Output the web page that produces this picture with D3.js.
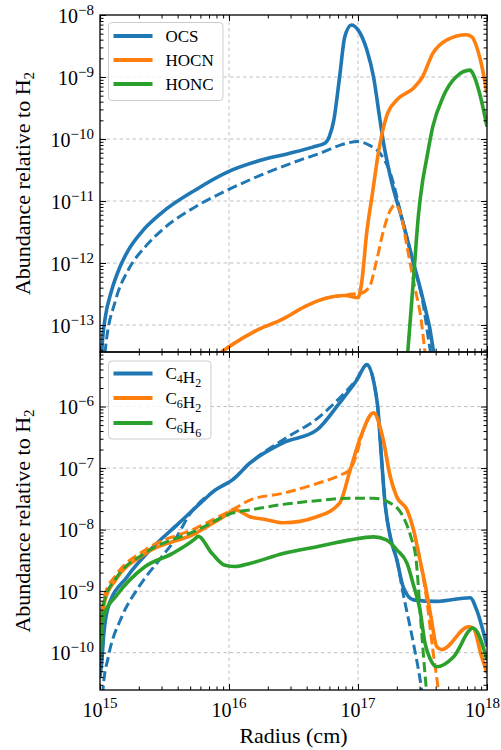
<!DOCTYPE html>
<html>
<head>
<meta charset="utf-8">
<script src="https://cdn.jsdelivr.net/npm/d3@7"></script>
<style>
  body { margin: 0; background: #fff; }
  svg, svg text { font-family: "Liberation Serif", "DejaVu Serif", serif; }
  svg text { fill: #000; }
</style>
</head>
<body>
<svg id="chart" width="501" height="750" font-family="Liberation Serif, DejaVu Serif, serif"></svg>
<script>
////////////////////////////////////////////////////////////////////////////////////
// Data: [radius (cm), abundance relative to H2]
var ocsSolid = [
  [1.02e15, 2.5e-14], [1.05e15, 6.3e-14], [1.10e15, 1.35e-13], [1.23e15, 3.6e-13],
  [1.43e15, 8.7e-13], [1.66e15, 1.62e-12], [2.1e15, 3.16e-12], [3.02e15, 6.5e-12],
  [5.5e15, 1.51e-11], [9.8e15, 2.95e-11],
  [1.78e16, 4.57e-11], [2.82e16, 5.75e-11], [4.47e16, 7.4e-11], [5.6e16, 8.7e-11],
  [6.0e16, 1.1e-10], [6.5e16, 2.04e-10], [7.2e16, 1.0e-9], [7.9e16, 4.47e-9],
  [8.9e16, 6.9e-9], [1.0e17, 5.75e-9], [1.17e17, 2.75e-9], [1.32e17, 1.0e-9],
  [1.48e17, 2.04e-10], [1.58e17, 8.5e-11], [1.78e17, 2.5e-11], [2.24e17, 4.37e-12],
  [2.69e17, 1.0e-12], [3.16e17, 2.82e-13], [3.8e17, 4.47e-14], [3.98e17, 2.0e-14]
];
var ocsDashed = [
  [1.07e15, 2.0e-14], [1.10e15, 4.0e-14], [1.32e15, 2.5e-13], [1.66e15, 7.8e-13],
  [2.24e15, 1.82e-12], [3.02e15, 3.4e-12], [5.5e15, 8.1e-12], [9.8e15, 1.51e-11],
  [1.78e16, 2.63e-11], [3.55e16, 4.57e-11], [5.1e16, 5.9e-11], [7.2e16, 7.9e-11],
  [1.0e17, 9.1e-11], [1.23e17, 7.9e-11], [1.48e17, 5.9e-11], [1.78e17, 2.82e-11],
  [2.24e17, 4.37e-12], [2.69e17, 1.0e-12], [3.16e17, 2.5e-13], [3.7e17, 3.16e-14],
  [3.98e17, 1.6e-14]
];
var hocnSolid = [
  [7.9e15, 3.16e-14], [1.0e16, 4.47e-14], [1.58e16, 7.9e-14], [2.63e16, 1.26e-13],
  [3.9e16, 2.0e-13], [5.0e16, 2.5e-13], [6.5e16, 2.88e-13], [7.9e16, 3.0e-13],
  [1.0e17, 2.75e-13], [1.07e17, 5.0e-13], [1.17e17, 3.16e-12], [1.29e17, 1.26e-11],
  [1.45e17, 6.6e-11], [1.66e17, 2.29e-10], [2.0e17, 4.27e-10], [2.69e17, 6.6e-10],
  [3.16e17, 1.0e-9], [3.8e17, 2.4e-9], [4.9e17, 3.98e-9], [6.9e17, 4.79e-9],
  [7.6e17, 4.47e-9], [8.9e17, 1.86e-9], [1.0e18, 5.5e-10]
];
var hocnDashed = [
  [7.9e15, 3.16e-14], [1.0e16, 4.47e-14], [1.58e16, 7.9e-14], [2.63e16, 1.26e-13],
  [3.9e16, 2.0e-13], [5.0e16, 2.5e-13], [6.5e16, 2.88e-13], [7.9e16, 3.0e-13],
  [8.9e16, 3.16e-13], [1.05e17, 3.24e-13], [1.23e17, 4.17e-13], [1.38e17, 1.0e-12],
  [1.58e17, 3.4e-12], [1.78e17, 7.1e-12], [1.95e17, 8.7e-12], [2.14e17, 6.3e-12],
  [2.4e17, 1.82e-12], [2.75e17, 4.17e-13], [3.09e17, 1.2e-13], [3.31e17, 3.55e-14],
  [3.47e17, 1.6e-14]
];
var honcSolid = [
  [2.4e17, 2.5e-14], [2.45e17, 4.47e-14], [2.69e17, 5.4e-13], [2.95e17, 6.3e-12],
  [3.16e17, 2.0e-11], [3.39e17, 4.57e-11], [3.8e17, 1.58e-10], [4.57e17, 4.8e-10],
  [5.75e17, 1.0e-9], [7.4e17, 1.29e-9], [7.8e17, 1.12e-9], [8.9e17, 4.8e-10],
  [1.0e18, 1.58e-10]
];

var c4h2Solid = [
  [1.0e15, 4.0e-11], [1.03e15, 6.8e-11], [1.07e15, 2.0e-10], [1.16e15, 5.6e-10],
  [1.62e15, 1.7e-9], [2.45e15, 4.68e-9], [4.07e15, 1.26e-8], [6.0e15, 2.69e-8],
  [7.8e15, 4.37e-8], [1.07e16, 6.5e-8], [1.45e16, 1.2e-7], [2.63e16, 2.57e-7],
  [4.8e16, 4.17e-7], [7.2e16, 1.15e-6], [9.8e16, 2.69e-6], [1.17e17, 4.8e-6],
  [1.41e17, 1.15e-6], [1.51e17, 1.78e-7], [1.62e17, 2.69e-8], [1.78e17, 7.6e-9],
  [2.0e17, 3.24e-9], [2.24e17, 1.17e-9], [2.69e17, 7.2e-10], [4.07e17, 6.8e-10],
  [7.4e17, 7.8e-10], [8.3e17, 5.0e-10], [1.0e18, 1.26e-10]
];
var c4h2Dashed = [
  [1.05e15, 2.0e-11], [1.06e15, 2.82e-11], [1.16e15, 8.5e-11], [1.48e15, 3.89e-10],
  [2.0e15, 1.17e-9], [3.02e15, 3.63e-9], [3.8e15, 6.8e-9], [5.0e15, 1.82e-8],
  [7.8e15, 4.37e-8], [1.07e16, 6.5e-8], [1.45e16, 1.2e-7], [2.82e16, 3.16e-7],
  [4.8e16, 6.3e-7], [7.2e16, 1.38e-6], [9.8e16, 2.82e-6], [1.17e17, 4.8e-6],
  [1.41e17, 1.15e-6], [1.51e17, 1.78e-7], [1.62e17, 2.69e-8], [1.78e17, 7.6e-9],
  [2.0e17, 3.24e-9], [2.24e17, 9.1e-10], [2.69e17, 1.41e-10], [3.09e17, 2.75e-11],
  [3.24e17, 1.26e-11]
];
var c6h2Solid = [
  [1.0e15, 1.26e-10], [1.03e15, 3.16e-10], [1.094e15, 7.2e-10], [1.32e15, 1.51e-9],
  [2.24e15, 4.07e-9], [5.5e15, 8.7e-9], [8.9e15, 1.58e-8], [1.12e16, 2.09e-8],
  [1.45e16, 1.62e-8], [1.95e16, 1.45e-8], [2.63e16, 1.29e-8], [4.8e16, 1.62e-8],
  [7.2e16, 2.69e-8], [8.7e16, 9.3e-8], [1.05e17, 3.24e-7], [1.32e17, 7.9e-7],
  [1.55e17, 3.24e-7], [1.78e17, 7.2e-8], [2.0e17, 3.39e-8], [2.4e17, 2.09e-8],
  [2.69e17, 1.0e-8], [3.02e17, 3.24e-9], [3.39e17, 1.0e-9], [3.7e17, 3.55e-10],
  [4.07e17, 1.26e-10], [4.47e17, 1.12e-10], [7.2e17, 2.63e-10], [7.8e17, 2.51e-10],
  [9.1e17, 8.5e-11], [1.0e18, 4.68e-11]
];
var c6h2Dashed = [
  [1.0e15, 1.58e-10], [1.03e15, 3.98e-10], [1.094e15, 8.9e-10], [1.32e15, 1.78e-9],
  [2.24e15, 4.68e-9], [5.5e15, 1.05e-8], [1.12e16, 2.24e-8], [1.45e16, 3.02e-8],
  [2.63e16, 3.89e-8], [4.8e16, 5.6e-8], [7.2e16, 7.6e-8], [8.7e16, 9.5e-8],
  [9.8e16, 1.74e-7], [1.1e17, 4.17e-7], [1.32e17, 7.9e-7], [1.55e17, 3.24e-7],
  [1.78e17, 7.2e-8], [2.0e17, 3.39e-8], [2.4e17, 2.09e-8], [2.69e17, 1.0e-8],
  [3.02e17, 3.24e-9], [3.39e17, 7.9e-10], [3.8e17, 1.12e-10], [4.17e17, 2.75e-11],
  [4.37e17, 1.26e-11]
];
var c6h6Solid = [
  [1.0e15, 7.6e-11], [1.03e15, 2.34e-10], [1.094e15, 4.47e-10], [1.32e15, 8.1e-10],
  [2.24e15, 2.51e-9], [3.63e15, 4.07e-9], [5.5e15, 7.2e-9], [5.75e15, 7.8e-9],
  [7.4e15, 4.07e-9], [9.3e15, 2.63e-9], [1.12e16, 2.51e-9], [1.45e16, 2.82e-9],
  [2.63e16, 4.07e-9], [4.8e16, 5.25e-9], [8.7e16, 6.8e-9], [1.32e17, 7.6e-9],
  [1.66e17, 6.8e-9], [2.0e17, 4.68e-9], [2.4e17, 2.82e-9], [2.69e17, 1.26e-9],
  [3.02e17, 5.0e-10], [3.31e17, 1.41e-10], [3.63e17, 7.9e-11], [4.07e17, 5.9e-11],
  [5.5e17, 8.5e-11], [7.8e17, 2.51e-10], [1.0e18, 7.6e-11]
];
var c6h6Dashed = [
  [1.0e15, 1.12e-10], [1.03e15, 3.55e-10], [1.094e15, 7.6e-10], [1.32e15, 1.58e-9],
  [2.24e15, 4.17e-9], [5.5e15, 9.5e-9], [1.12e16, 1.91e-8], [1.45e16, 2.09e-8],
  [2.63e16, 2.57e-8], [4.8e16, 2.95e-8], [8.7e16, 3.24e-8], [1.32e17, 3.24e-8],
  [1.78e17, 2.69e-8], [2.24e17, 1.62e-8], [2.57e17, 7.6e-9], [2.82e17, 3.24e-9],
  [3.09e17, 2.63e-10], [3.39e17, 2.51e-11], [3.55e17, 1.0e-11]
];

// tick labels
var xTickValues = [1e15, 1e16, 1e17, 1e18];
var xTickExp = ["15", "16", "17", "18"];
var topTickValues = [1e-13, 1e-12, 1e-11, 1e-10, 1e-9, 1e-8];
var topTickExp = ["\u221213", "\u221212", "\u221211", "\u221210", "\u22129", "\u22128"];
var bottomTickValues = [1e-10, 1e-9, 1e-8, 1e-7, 1e-6];
var bottomTickExp = ["\u221210", "\u22129", "\u22128", "\u22127", "\u22126"];

// legend labels, pieces are [normal text, subscript]
var topLegend = [[["OCS", ""]], [["HOCN", ""]], [["HONC", ""]]];
var bottomLegend = [[["C", "4"], ["H", "2"]], [["C", "6"], ["H", "2"]], [["C", "6"], ["H", "6"]]];

var colors = ["#1f77b4", "#ff7f0e", "#2ca02c"];
var fontStack = "'Liberation Serif', 'DejaVu Serif', serif";

////////////////////////////////////////////////////////////////////////////////////
// Scales
var left = 100, right = 487;
var svg = d3.select("#chart");
var x = d3.scaleLog().domain([1e15, 1e18]).range([left, right]);
var yTop = d3.scaleLog().domain([3.67e-14, 1e-8]).range([352, 15]);
var yBottom = d3.scaleLog().domain([2.47e-11, 7.7e-6]).range([690, 352]);

function isMajor(v) {
  var l = Math.log10(v);
  return Math.abs(l - Math.round(l)) < 1e-6;
}

function addText(sel) {
  return sel.append("text").style("font-family", fontStack);
}

////////////////////////////////////////////////////////////////////////////////////
// Draw one panel
function drawPanel(id, y, lines, yTicks, yExp, legend, legendBox, showX) {
  var g = svg.append("g").attr("class", id);
  var y0 = y.range()[1], y1 = y.range()[0];

  g.append("clipPath").attr("id", "clip-" + id)
   .append("rect").attr("x", left).attr("y", y0).attr("width", right - left).attr("height", y1 - y0);

  // grid
  var grid = g.append("g").attr("stroke", "#b0b0b0").attr("stroke-width", 0.8)
              .attr("stroke-dasharray", "3.5,3");
  grid.selectAll(".gx").data(xTickValues.filter(function(d) { return d > 1e15 && d < 1e18; }))
      .enter().append("line")
      .attr("x1", function(d) { return x(d); }).attr("x2", function(d) { return x(d); })
      .attr("y1", y0).attr("y2", y1);
  grid.selectAll(".gy").data(yTicks.filter(function(d) { return y(d) > y0 + 1; }))
      .enter().append("line")
      .attr("y1", function(d) { return y(d); }).attr("y2", function(d) { return y(d); })
      .attr("x1", left).attr("x2", right);

  // curves
  var line = d3.line()
               .x(function(d) { return x(d[0]); })
               .y(function(d) { return y(d[1]); })
               .curve(d3.curveMonotoneX);
  var curves = g.append("g").attr("clip-path", "url(#clip-" + id + ")")
                .attr("fill", "none").attr("stroke-linecap", "butt").attr("stroke-linejoin", "round");
  lines.forEach(function(s) {
    curves.append("path").datum(s.data)
          .attr("d", line)
          .attr("stroke", s.color)
          .attr("stroke-width", s.dashed ? 3 : 3.6)
          .attr("stroke-dasharray", s.dashed ? "10,4.5" : null);
  });

  // ticks (inward, all four sides)
  var xAll = x.ticks(), yAll = y.ticks();
  var xMaj = xAll.filter(isMajor), xMin = xAll.filter(function(d) { return !isMajor(d); });
  var yMaj = yAll.filter(isMajor), yMin = yAll.filter(function(d) { return !isMajor(d); });
  var axes = [
    [d3.axisBottom(x).tickValues(xMaj).tickSize(-6), "translate(0," + y1 + ")"],
    [d3.axisBottom(x).tickValues(xMin).tickSize(-3.5), "translate(0," + y1 + ")"],
    [d3.axisTop(x).tickValues(xMaj).tickSize(-6), "translate(0," + y0 + ")"],
    [d3.axisTop(x).tickValues(xMin).tickSize(-3.5), "translate(0," + y0 + ")"],
    [d3.axisLeft(y).tickValues(yMaj).tickSize(-6), "translate(" + left + ",0)"],
    [d3.axisLeft(y).tickValues(yMin).tickSize(-3.5), "translate(" + left + ",0)"],
    [d3.axisRight(y).tickValues(yMaj).tickSize(-6), "translate(" + right + ",0)"],
    [d3.axisRight(y).tickValues(yMin).tickSize(-3.5), "translate(" + right + ",0)"]
  ];
  axes.forEach(function(a) {
    var ag = g.append("g").attr("transform", a[1])
              .call(a[0].tickFormat("").tickSizeOuter(0));
    ag.select(".domain").remove();
    ag.selectAll(".tick line").attr("stroke", "#000").attr("stroke-width", 1);
  });

  // frame
  g.append("rect").attr("x", left).attr("y", y0).attr("width", right - left).attr("height", y1 - y0)
   .attr("fill", "none").attr("stroke", "#000").attr("stroke-width", 1.3);

  // y tick labels
  yTicks.forEach(function(v, i) {
    var t = addText(g).attr("x", 94).attr("y", y(v) + 7.5)
             .attr("text-anchor", "end").attr("font-size", 20);
    t.append("tspan").text("10");
    t.append("tspan").attr("dy", -8).attr("font-size", 15).text(yExp[i]);
  });

  // x tick labels
  if (showX) {
    xTickValues.forEach(function(v, i) {
      var last = i === xTickValues.length - 1;
      var t = addText(g).attr("x", last ? 500 : x(v)).attr("y", 716.5)
               .attr("text-anchor", last ? "end" : "middle").attr("font-size", 20);
      t.append("tspan").text("10");
      t.append("tspan").attr("dy", -9).attr("font-size", 15).text(xTickExp[i]);
    });
    addText(g).attr("x", (left + right) / 2).attr("y", 743)
     .attr("text-anchor", "middle").attr("font-size", 22).text("Radius (cm)");
  }

  // y label
  var yl = addText(g)
            .attr("transform", "translate(30," + ((y0 + y1) / 2) + ") rotate(-90)")
            .attr("text-anchor", "middle").attr("font-size", 22);
  yl.append("tspan").text("Abundance relative to H");
  yl.append("tspan").attr("dy", 4).attr("font-size", 15).text("2");

  // legend
  var lg = g.append("g");
  lg.append("rect").attr("x", legendBox.x).attr("y", legendBox.y)
    .attr("width", legendBox.w).attr("height", legendBox.h).attr("rx", 3.5)
    .attr("fill", "#fff").attr("fill-opacity", 0.8)
    .attr("stroke", "#cccccc").attr("stroke-width", 1);
  legend.forEach(function(pieces, i) {
    var ry = legendBox.rows[i];
    lg.append("line").attr("x1", legendBox.x + 5).attr("x2", legendBox.x + 44)
      .attr("y1", ry).attr("y2", ry)
      .attr("stroke", colors[i]).attr("stroke-width", 3.8);
    var t = addText(lg).attr("x", legendBox.x + 57).attr("y", ry + 5.5).attr("font-size", 17);
    pieces.forEach(function(p) {
      t.append("tspan").text(p[0]);
      if (p[1]) {
        t.append("tspan").attr("dy", 4).attr("font-size", 12).text(p[1]);
        t.append("tspan").attr("dy", -4).text("");
      }
    });
  });
}

drawPanel("top", yTop, [
  { data: ocsSolid, color: colors[0], dashed: false },
  { data: ocsDashed, color: colors[0], dashed: true },
  { data: hocnSolid, color: colors[1], dashed: false },
  { data: hocnDashed, color: colors[1], dashed: true },
  { data: honcSolid, color: colors[2], dashed: false }
], topTickValues, topTickExp, topLegend,
  { x: 108.5, y: 22.5, w: 114.5, h: 78, rows: [36, 60, 84] }, false);

drawPanel("bottom", yBottom, [
  { data: c4h2Solid, color: colors[0], dashed: false },
  { data: c4h2Dashed, color: colors[0], dashed: true },
  { data: c6h2Solid, color: colors[1], dashed: false },
  { data: c6h2Dashed, color: colors[1], dashed: true },
  { data: c6h6Solid, color: colors[2], dashed: false },
  { data: c6h6Dashed, color: colors[2], dashed: true }
], bottomTickValues, bottomTickExp, bottomLegend,
  { x: 108.5, y: 361, w: 102.5, h: 78, rows: [373.5, 398, 423] }, true);
</script>
</body>
</html>
